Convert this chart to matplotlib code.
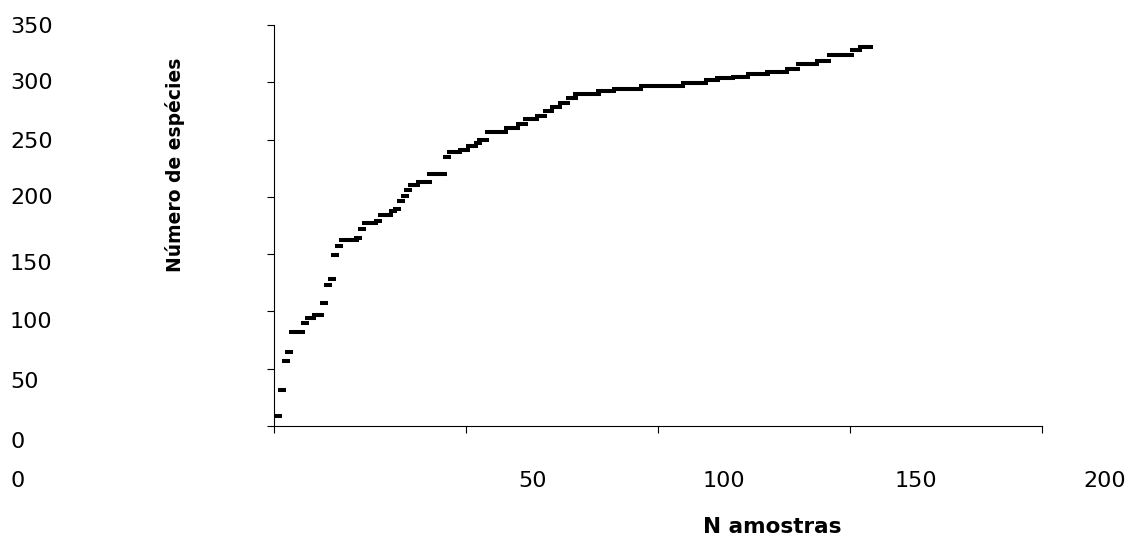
import numpy as np
import matplotlib
matplotlib.use("Agg")
import matplotlib.pyplot as plt

# Accumulated species count per sample
especies = [
    9, 31, 57, 65, 82, 82, 82, 90, 94, 94,
    97, 97, 107, 123, 128, 149, 157, 162, 162, 162,
    162, 164, 172, 177, 177, 177, 179, 184, 184, 184,
    188, 189, 196, 201, 206, 210, 210, 213, 213, 213,
    220, 220, 220, 220, 235, 239, 239, 239, 241, 241,
    244, 244, 247, 250, 250, 257, 257, 257, 257, 257,
    260, 260, 260, 264, 264, 268, 268, 268, 271, 271,
    275, 275, 278, 278, 282, 282, 286, 286, 290, 290,
    290, 290, 290, 290, 292, 292, 292, 292, 294, 294,
    294, 294, 294, 294, 294, 297, 297, 297, 297, 297,
    297, 297, 297, 297, 297, 297, 299, 299, 299, 299,
    299, 299, 302, 302, 302, 304, 304, 304, 304, 305,
    305, 305, 305, 307, 307, 307, 307, 307, 309, 309,
    309, 309, 309, 312, 312, 312, 316, 316, 316, 316,
    316, 319, 319, 319, 324, 324, 324, 324, 324, 324,
    328, 328, 331, 331, 331,
]
amostras = np.arange(1, len(especies) + 1)

y_ticks = [0, 50, 100, 150, 200, 250, 300, 350]
x_ticks = [0, 50, 100, 150, 200]
x_label = "N amostras"
y_label = "Número de espécies"

W, H = 1126, 538
fig = plt.figure(figsize=(W / 100, H / 100), dpi=100)
ax = fig.add_axes([274 / W, 112 / H, 768 / W, 401 / H])

ax.plot(amostras, especies, linestyle="none", marker="_",
        markersize=5.8, markeredgewidth=2.9, color="black")

ax.set_xlim(0, 200)
ax.set_ylim(0, 350)
ax.set_xticks(x_ticks)
ax.set_yticks(y_ticks)
ax.tick_params(direction="out", length=5, width=0.8, color="black",
               labelbottom=False, labelleft=False)
for side in ("top", "right"):
    ax.spines[side].set_visible(False)
for side in ("left", "bottom"):
    ax.spines[side].set_linewidth(0.8)
    ax.spines[side].set_color("black")


def px(x, y):
    """Pixel position (from top-left) to figure fraction."""
    return x / W, 1 - y / H


num_font = dict(family="DejaVu Sans", fontsize=16, color="black")

# value labels down the left edge
y_label_rows = [440, 380, 320, 262, 196, 140, 81, 25]
for val, row in zip(y_ticks, y_label_rows):
    fig.text(*px(10, row + 8), str(val), ha="left", va="baseline", **num_font)

# value labels along the bottom row
x_label_cols = [10, 533, 724, 916, 1105]
x_label_ha = ["left", "center", "center", "center", "center"]
for val, col, ha in zip(x_ticks, x_label_cols, x_label_ha):
    fig.text(*px(col, 487), str(val), ha=ha, va="baseline", **num_font)

fig.text(*px(772, 533), x_label, ha="center", va="baseline",
         family="DejaVu Sans", fontsize=15.5, fontweight="bold")
fig.text(*px(175, 165), y_label, ha="center", va="center", rotation=90,
         family="DejaVu Sans", fontsize=13.5, fontweight="bold")

fig.savefig("out.png", dpi=100, facecolor="white")
